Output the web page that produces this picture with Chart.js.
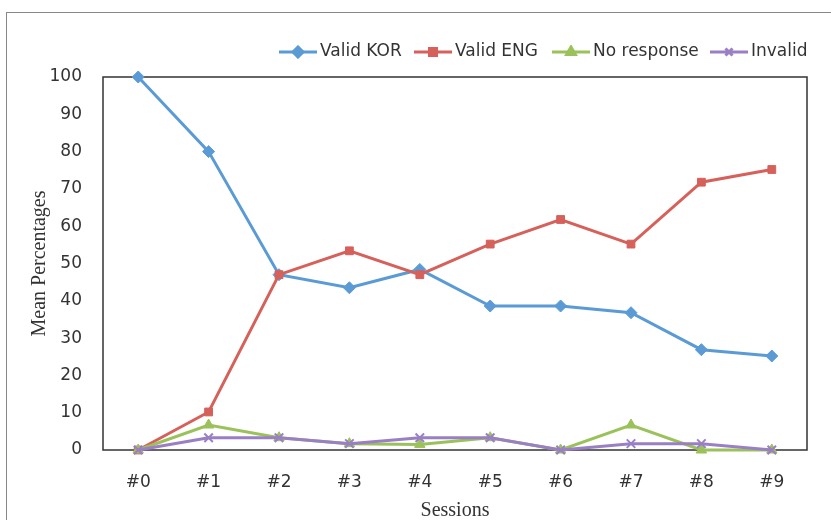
<!DOCTYPE html>
<html>
<head>
<meta charset="utf-8">
<script src="https://cdn.jsdelivr.net/npm/chart.js@4/dist/chart.umd.min.js"></script>
<style>
html,body{margin:0;padding:0;background:#fff;}
#wrap{position:relative;width:831px;height:520px;}
#frame{position:absolute;left:6px;top:12px;width:900px;height:600px;border-left:1.5px solid #888;border-top:1.5px solid #888;box-sizing:border-box;}
canvas{position:absolute;left:0;top:0;}
</style>
</head>
<body>
<div id="wrap"><div id="frame"></div><canvas id="c" width="831" height="520"></canvas></div>
<script>
const sessions = ['#0','#1','#2','#3','#4','#5','#6','#7','#8','#9'];
const validKOR = [100, 80, 47, 43.5, 48.4, 38.6, 38.6, 36.8, 26.9, 25.2];
const validENG = [0, 10.2, 47, 53.4, 47, 55.2, 61.8, 55.2, 71.8, 75.2];
const noResponse = [0, 6.7, 3.3, 1.7, 1.5, 3.3, 0, 6.7, 0, 0];
const invalid = [0, 3.3, 3.3, 1.7, 3.3, 3.3, 0, 1.7, 1.7, 0];
const seriesNames = ['Valid KOR','Valid ENG','No response','Invalid'];
const yTicks = [0,10,20,30,40,50,60,70,80,90,100];

const colors = ['#5b9bd5','#d6605a','#9bc25a','#9a7fc4'];
const styles = ['rectRot','rect','triangle','crossRot'];
const radii = [6,5.5,6,6];
const sansFont = '"DejaVu Sans", Arial, sans-serif';
const serifFont = '"Liberation Serif", "Times New Roman", serif';

function legendIcon(i){
  const cv = document.createElement('canvas');
  cv.width = 40; cv.height = 14;
  const g = cv.getContext('2d');
  g.strokeStyle = colors[i]; g.fillStyle = colors[i]; g.lineWidth = 3;
  g.beginPath(); g.moveTo(1,7); g.lineTo(39,7); g.stroke();
  Chart.helpers.drawPoint(g, {pointStyle: styles[i], radius: 5, borderWidth: 2}, 20, 7);
  return cv;
}

const dataArrays = [validKOR, validENG, noResponse, invalid];
const datasets = dataArrays.map((d,i)=>({
  label: seriesNames[i],
  data: d,
  borderColor: colors[i],
  backgroundColor: colors[i],
  borderWidth: 3,
  pointStyle: styles[i],
  pointRadius: radii[i],
  pointBorderWidth: i===3 ? 2 : 1,
  pointBorderColor: colors[i],
  pointBackgroundColor: colors[i],
  tension: 0,
  clip: false
}));
datasets.reverse();

const boxPlugin = {
  id:'box',
  beforeDatasetsDraw(chart){
    const a = chart.chartArea, c = chart.ctx;
    c.save(); c.strokeStyle = '#333'; c.lineWidth = 1.5;
    c.strokeRect(a.left, a.top, a.right-a.left, a.bottom-a.top);
    c.restore();
  }
};

const icons = [0,1,2,3].map(legendIcon);
const legendPlugin = {
  id:'customLegend',
  afterDraw(chart){
    const c = chart.ctx;
    c.save();
    c.font = '17px ' + sansFont;
    c.fillStyle = '#333'; c.textBaseline = 'middle';
    const xs = [278, 413, 551, 709];
    for(let i=0;i<4;i++){
      c.drawImage(icons[i], xs[i], 45);
      c.fillText(seriesNames[i], xs[i]+42, 52);
    }
    c.restore();
  }
};

new Chart(document.getElementById('c'), {
  type:'line',
  data:{labels:sessions, datasets},
  plugins:[boxPlugin, legendPlugin],
  options:{
    responsive:false,
    animation:false,
    layout:{padding:{left:0,right:24,top:77,bottom:0}},
    plugins:{legend:{display:false}, tooltip:{enabled:false}},
    scales:{
      x:{
        offset:true,
        grid:{display:false, drawTicks:false},
        border:{display:false},
        ticks:{color:'#333', font:{family:sansFont, size:17}, padding:22, maxRotation:0},
        title:{display:true, text:'Sessions', color:'#333', font:{family:serifFont, size:20, lineHeight:1}, padding:{top:0,bottom:-1}},
        afterFit(s){ s.height = 70; }
      },
      y:{
        min:0, max:100,
        afterBuildTicks(s){ s.ticks = yTicks.map(v=>({value:v})); },
        grid:{display:false, drawTicks:false},
        border:{display:false},
        ticks:{color:'#333', font:{family:sansFont, size:17}, padding:21},
        title:{display:true, text:'Mean Percentages', color:'#333', font:{family:serifFont, size:20, lineHeight:1}, padding:{top:30,bottom:0}},
        afterFit(s){ s.width = 103; }
      }
    }
  }
});
</script>
</body>
</html>
